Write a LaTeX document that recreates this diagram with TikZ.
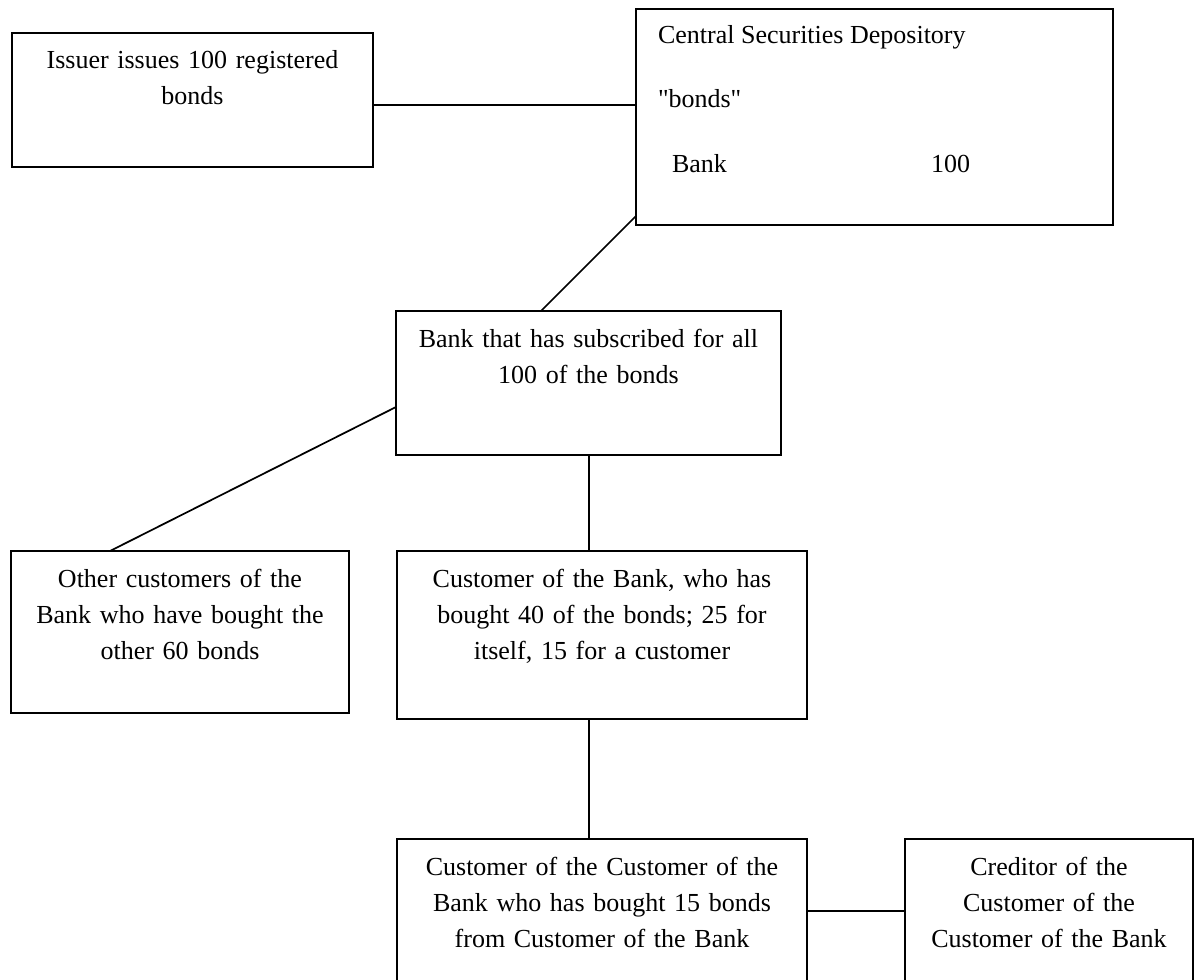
\documentclass[tikz,border=0pt]{standalone}
\usepackage{fontspec}
\setmainfont{Liberation Serif}
\newfontfamily\plainserif{Liberation Serif}
\usetikzlibrary{calc}
\tikzset{
  box/.style={draw, line width=1.5pt, rectangle, inner sep=0pt, outer sep=0pt, anchor=north west},
  txt/.style={inner sep=0pt, outer sep=0pt, align=center, anchor=base, font=\fontsize{19.5pt}{27pt}\selectfont},
  ltxt/.style={inner sep=0pt, outer sep=0pt, anchor=base west, font=\fontsize{19.5pt}{27pt}\selectfont},
  conn/.style={line width=1.3pt}
}
\begin{document}
\begin{tikzpicture}[x=0.75pt,y=-0.75pt]
\fill[white] (0,0) rectangle (1199,979);
\clip (0,0) rectangle (1199,979);
% boxes
\node[box, minimum width=270.75pt, minimum height=100.5pt] (issuer) at (12,33) {};
\node[box, minimum width=357.75pt, minimum height=162pt] (csd) at (636,9) {};
\node[box, minimum width=288.75pt, minimum height=108pt] (bank) at (396,311) {};
\node[box, minimum width=253.5pt, minimum height=121.5pt] (other) at (11,551) {};
\node[box, minimum width=307.5pt, minimum height=126pt] (cust) at (397,551) {};
\node[box, minimum width=307.5pt, minimum height=112.5pt] (coc) at (397,839) {};
\node[box, minimum width=216pt, minimum height=112.5pt] (cred) at (905,839) {};
% texts
\node[txt, text width=260pt] (tissuer) at (192.5,68) {Issuer issues 100 registered\\bonds};
\node[ltxt] (tcsd1) at (658,43) {Central Securities Depository};
\node[ltxt] (tcsd2) at (658,107) {\plainserif "bonds"};
\node[ltxt] (tcsd3) at (672,172) {Bank};
\node[ltxt] (tcsd4) at (931,172) {100};
\node[txt, text width=280pt] (tbank) at (588.5,347) {Bank that has subscribed for all\\100 of the bonds};
\node[txt, text width=250pt] (tother) at (180,587) {Other customers of the\\Bank who have bought the\\other 60 bonds};
\node[txt, text width=300pt] (tcust) at (602,587) {Customer of the Bank, who has\\bought 40 of the bonds; 25 for\\itself, 15 for a customer};
\node[txt, text width=300pt] (tcoc) at (602,875) {Customer of the Customer of the\\Bank who has bought 15 bonds\\from Customer of the Bank};
\node[txt, text width=210pt] (tcred) at (1049,875) {Creditor of the\\Customer of the\\Customer of the Bank};
% connectors
\draw[conn] ($(issuer.east)+(0,5)$) -- ($(issuer.east -| csd.west)+(0,5)$);
\draw[conn] ($(csd.south west)+(0,-9)$) -- ($(bank.north west)+(145,0)$);
\draw[conn] ($(bank.north west)+(0,96)$) -- ($(other.north west)+(99,0)$);
\draw[conn] ($(bank.south west)+(193,0)$) -- ($(cust.north west)+(192,0)$);
\draw[conn] ($(cust.south west)+(192,0)$) -- ($(coc.north west)+(192,0)$);
\draw[conn] ($(coc.north east)+(0,72)$) -- ($(cred.north west)+(0,72)$);
\end{tikzpicture}
\end{document}
